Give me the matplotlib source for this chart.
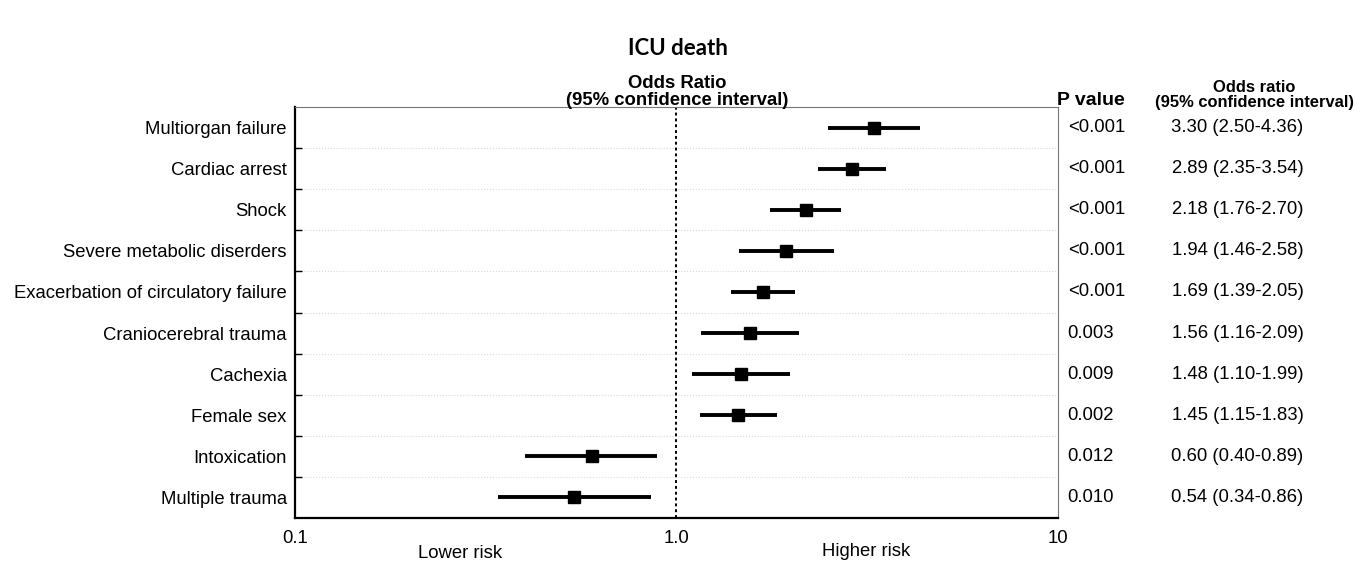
import numpy as np
import matplotlib.pyplot as plt
import matplotlib.transforms as mtransforms

# data
labels = ["Multiorgan failure", "Cardiac arrest", "Shock", "Severe metabolic diserders",
          "Exacerbation of circulatory failure", "Craniocerebral trauma", "Cachexia",
          "Female sex", "Intoxication", "Multiple trauma"]
odds = [3.30, 2.89, 2.18, 1.94, 1.69, 1.56, 1.48, 1.45, 0.60, 0.54]
ci_low = [2.50, 2.35, 1.76, 1.46, 1.39, 1.16, 1.10, 1.15, 0.40, 0.34]
ci_high = [4.36, 3.54, 2.70, 2.58, 2.05, 2.09, 1.99, 1.83, 0.89, 0.86]
p_values = ["<0.001", "<0.001", "<0.001", "<0.001", "<0.001", "0.003", "0.009",
            "0.002", "0.012", "0.010"]
x_ticks = [0.1, 1.0, 10]
x_ticklabels = ["0.1", "1.0", "10"]

plt.rcParams['font.family'] = ['Liberation Sans', 'DejaVu Sans']
FS = 13.3

fig = plt.figure(figsize=(13.55, 5.65), dpi=100)
ax = fig.add_axes([0.2177, 0.0832, 0.5631, 0.7274])

y = np.arange(len(labels))
for yi, o, lo, hi in zip(y, odds, ci_low, ci_high):
    ax.plot([lo, hi], [yi, yi], color="black", linewidth=2.8, solid_capstyle="butt", zorder=3)
    ax.plot(o, yi, marker="s", color="black", markersize=9.2, zorder=4)

ax.axvline(1.0, color="black", linestyle=(0, (1.5, 1.5)), linewidth=1.4, zorder=2)

ax.set_xscale("log")
ax.set_xlim(0.1, 10)
ax.set_ylim(len(labels) - 0.5, -0.5)

ax.set_xticks(x_ticks)
ax.set_xticklabels(x_ticklabels, fontsize=FS)
ax.xaxis.set_minor_locator(plt.NullLocator())
ax.tick_params(axis="x", length=0, pad=9)

ax.set_yticks(y)
ax.set_yticklabels(labels, fontsize=FS)
ax.set_yticks(y[:-1] + 0.5, minor=True)
ax.tick_params(axis="y", which="major", length=0, pad=6)
ax.tick_params(axis="y", which="minor", direction="in", length=5, width=1, color="black")
ax.grid(axis="y", which="minor", color="#d8d8d8", linestyle=":", linewidth=0.8)

for side in ["left", "bottom"]:
    ax.spines[side].set_linewidth(1.6)
    ax.spines[side].set_color("black")
for side in ["top", "right"]:
    ax.spines[side].set_linewidth(0.8)
    ax.spines[side].set_color("#777777")

# right-hand text columns
trans = mtransforms.blended_transform_factory(fig.transFigure, ax.transData)
for yi, p, o, lo, hi in zip(y, p_values, odds, ci_low, ci_high):
    ax.text(0.788, yi, p, transform=trans, ha="left", va="center", fontsize=FS)
    ax.text(0.9133, yi, f"{o:.2f} ({lo:.2f}-{hi:.2f})", transform=trans,
            ha="center", va="center", fontsize=FS)

# headers
fig.text(0.5, 0.915, "ICU death", ha="center", va="center", fontsize=16,
         fontweight="bold", family=["Lato", "DejaVu Sans"])
fig.text(0.5, 0.838, "Odds Ratio\n(95% confidence interval)", ha="center", va="center",
         fontsize=13.3, fontweight="bold", linespacing=1.0)
fig.text(0.805, 0.822, "P value", ha="center", va="center", fontsize=14, fontweight="bold")
fig.text(0.9255, 0.831, "Odds ratio\n(95% confidence interval)", ha="center", va="center",
         fontsize=11.9, fontweight="bold", linespacing=1.0)

fig.text(460 / 1355, 1 - 553 / 565, "Lower risk", ha="center", va="center", fontsize=FS)
fig.text(866 / 1355, 1 - 552 / 565, "Higher risk", ha="center", va="center", fontsize=FS)

fig.savefig("out.png", dpi=100)
